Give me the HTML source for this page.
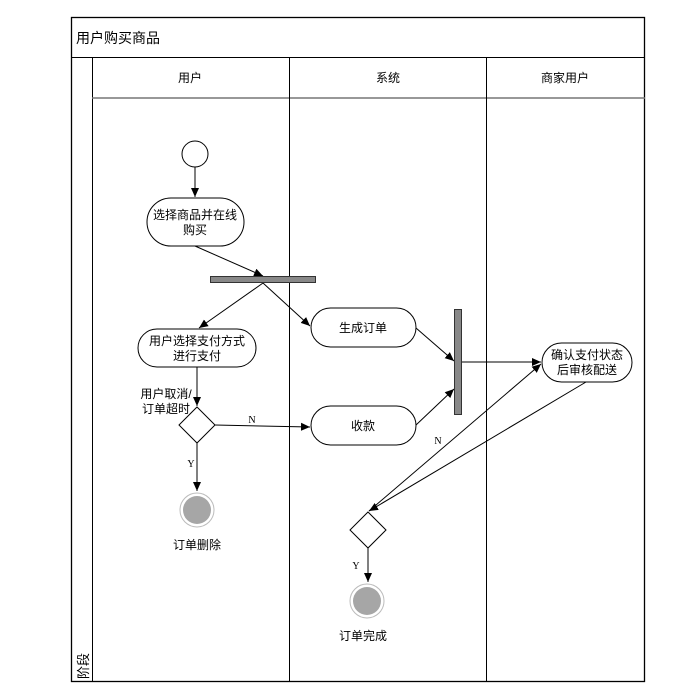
<!DOCTYPE html>
<html><head><meta charset="utf-8"><style>
html,body{margin:0;padding:0;background:#fff;}
svg{display:block;font-family:"Liberation Sans","Noto Sans CJK SC",sans-serif;}
</style></head><body>
<svg width="681" height="696" viewBox="0 0 681 696" xmlns="http://www.w3.org/2000/svg">
<defs>
<marker id="a" markerWidth="10" markerHeight="10" refX="9" refY="5" orient="auto" markerUnits="userSpaceOnUse">
<path d="M0,1 L9,5 L0,9 z" fill="#000"/></marker>
</defs>
<rect x="71.5" y="17.5" width="573" height="664" fill="#fff" stroke="#000" stroke-width="1.3"/>
<line x1="71" y1="57.5" x2="645" y2="57.5" stroke="#000"/>
<line x1="92.5" y1="57" x2="92.5" y2="681" stroke="#000"/>
<line x1="92" y1="98" x2="645" y2="98" stroke="#777" stroke-width="1.5"/>
<line x1="289.5" y1="57" x2="289.5" y2="681" stroke="#000"/>
<line x1="486.5" y1="57" x2="486.5" y2="681" stroke="#000"/>
<text x="76" y="43" font-size="14">用户购买商品</text>
<text x="190" y="82" font-size="12" text-anchor="middle">用户</text>
<text x="388" y="82" font-size="12" text-anchor="middle">系统</text>
<text x="565" y="82" font-size="12" text-anchor="middle">商家用户</text>
<text transform="translate(88,679) rotate(-90)" font-size="13">阶段</text>

<g stroke="#000" fill="none" stroke-width="1">
<circle cx="195" cy="154" r="13" fill="#fff"/>
<line x1="195" y1="167" x2="195" y2="197" marker-end="url(#a)"/>
<rect x="147" y="198" width="97" height="48" rx="24" fill="#fff"/>
<line x1="195" y1="246" x2="263" y2="276" marker-end="url(#a)"/>
<line x1="263" y1="283" x2="199" y2="328" marker-end="url(#a)"/>
<line x1="263" y1="283" x2="310" y2="326" marker-end="url(#a)"/>
<rect x="138" y="329" width="118" height="38" rx="19" fill="#fff"/>
<line x1="197" y1="367" x2="197" y2="406" marker-end="url(#a)"/>
<path d="M197,407 L215,425 L197,443 L179,425 z" fill="#fff"/>
<line x1="215" y1="425" x2="310" y2="427" marker-end="url(#a)"/>
<line x1="197" y1="443" x2="197" y2="491" marker-end="url(#a)"/>
<rect x="311" y="308" width="105" height="39" rx="19.5" fill="#fff"/>
<rect x="311" y="406" width="105" height="39" rx="19.5" fill="#fff"/>
<line x1="416" y1="328" x2="454" y2="361" marker-end="url(#a)"/>
<line x1="416" y1="425" x2="454" y2="389" marker-end="url(#a)"/>
<line x1="461" y1="362" x2="541" y2="362" marker-end="url(#a)"/>
<rect x="542" y="343" width="90" height="39" rx="19.5" fill="#fff"/>
<line x1="586" y1="382" x2="369" y2="511" marker-end="url(#a)"/>
<line x1="369" y1="511" x2="541" y2="364" marker-end="url(#a)"/>
<path d="M368,512 L386,530 L368,548 L350,530 z" fill="#fff"/>
<line x1="368" y1="548" x2="368" y2="582" marker-end="url(#a)"/>
</g>
<rect x="210.5" y="276.5" width="105" height="6" fill="#888" stroke="#333"/>
<rect x="454.5" y="309.5" width="7" height="105" fill="#888" stroke="#333"/>
<circle cx="197" cy="510" r="17" fill="#fff" stroke="#bbb"/>
<circle cx="197" cy="510" r="14" fill="#a6a6a6"/>
<circle cx="367" cy="601" r="17" fill="#fff" stroke="#bbb"/>
<circle cx="367" cy="601" r="14" fill="#a6a6a6"/>

<g font-size="12" text-anchor="middle">
<text x="195" y="219">选择商品并在线</text>
<text x="195" y="234">购买</text>
<text x="197" y="345">用户选择支付方式</text>
<text x="197" y="360">进行支付</text>
<text x="363" y="332">生成订单</text>
<text x="363" y="430">收款</text>
<text x="587" y="359">确认支付状态</text>
<text x="587" y="374">后审核配送</text>
<text x="166" y="398">用户取消/</text>
<text x="166" y="413">订单超时</text>
<text x="197" y="549">订单删除</text>
<text x="363" y="640">订单完成</text>
</g>
<g font-size="10" font-family="Liberation Serif,serif" text-anchor="middle">
<text x="252" y="423">N</text>
<text x="191" y="467">Y</text>
<text x="438" y="444">N</text>
<text x="356" y="569">Y</text>
</g>
</svg>
</body></html>
